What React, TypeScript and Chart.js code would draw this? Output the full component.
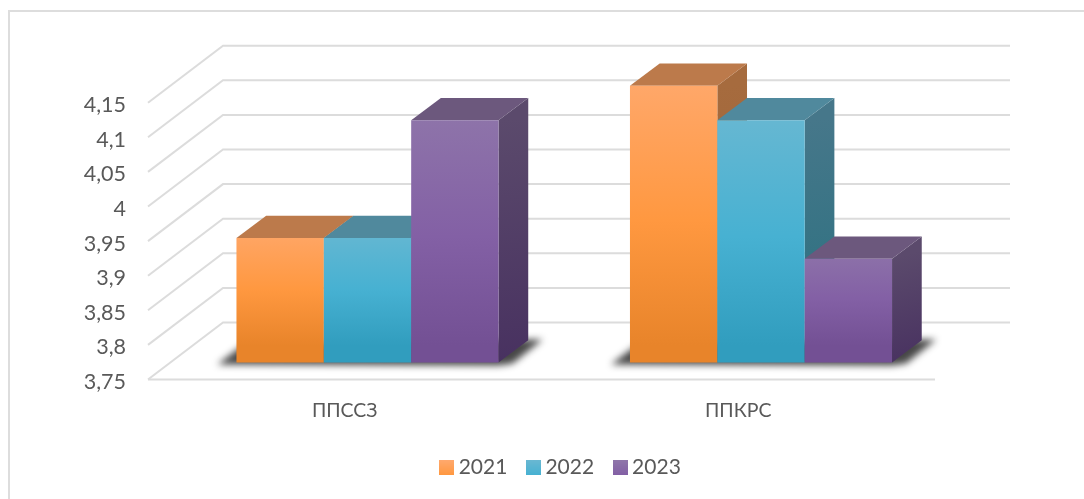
import React, { useEffect, useRef } from "react";
import { Chart, registerables } from "chart.js";

Chart.register(...registerables);

const categories = ["ППССЗ", "ППКРС"];
const seriesNames = ["2021", "2022", "2023"];
const values2021 = [3.93, 4.15];
const values2022 = [3.93, 4.1];
const values2023 = [4.1, 3.9];
const yTickLabels = ["3,75", "3,8", "3,85", "3,9", "3,95", "4", "4,05", "4,1", "4,15"];

const FONT = "Lato, 'Open Sans', sans-serif";
const TEXT = "#595959";
const GRID = "#DCDCDC";

const palette = [
  { front: ["#FFA96E", "#FF9840", "#E8842A"], top: "#BC7A4B", side: ["#A66B3E", "#9A6234"] },
  { front: ["#6AB8D2", "#47B1D2", "#319DBE"], top: "#50899D", side: ["#46778A", "#28707F"] },
  { front: ["#8F76AA", "#8360A5", "#735094"], top: "#6C587D", side: ["#5B4A6C", "#483160"] },
];

// 3D projection of the plot
const WALL_DX = 75;
const WALL_DY = 57;
const BAR_DX = 22.75;
const BAR_DY = 17;
const DEPTH_DX = 29.7;
const DEPTH_DY = 22.3;

const swatch = (i: number) => {
  const c = document.createElement("canvas");
  c.width = 15;
  c.height = 15;
  const g = c.getContext("2d")!;
  const grad = g.createLinearGradient(0, 0, 0, 15);
  grad.addColorStop(0, palette[i].front[0]);
  grad.addColorStop(1, palette[i].front[1]);
  g.fillStyle = grad;
  g.fillRect(0, 0, 15, 15);
  return c;
};

const poly = (ctx: CanvasRenderingContext2D, pts: number[][], fill: any) => {
  ctx.beginPath();
  pts.forEach(([x, y], i) => (i ? ctx.lineTo(x, y) : ctx.moveTo(x, y)));
  ctx.closePath();
  ctx.fillStyle = fill;
  ctx.fill();
};

const scene = {
  id: "scene",
  beforeDraw(chart: any) {
    const ctx = chart.ctx;
    ctx.save();
    ctx.fillStyle = "#fff";
    ctx.fillRect(0, 0, chart.width, chart.height);
    ctx.fillStyle = "#DDDDDD";
    ctx.fillRect(8, 10, chart.width - 8, 2);
    ctx.fillRect(8, 10, 2, chart.height - 10);
    ctx.restore();
  },
  beforeDatasetsDraw(chart: any) {
    const { ctx, chartArea, scales } = chart;
    const y = scales.y;
    ctx.save();
    ctx.strokeStyle = GRID;
    ctx.lineWidth = 2;
    y.ticks.forEach((_: any, i: number) => {
      const py = y.getPixelForTick(i);
      ctx.beginPath();
      ctx.moveTo(chartArea.left, py);
      ctx.lineTo(chartArea.left + WALL_DX, py - WALL_DY);
      ctx.lineTo(chartArea.right + WALL_DX, py - WALL_DY);
      ctx.stroke();
    });
    ctx.beginPath();
    ctx.moveTo(chartArea.left, chartArea.bottom);
    ctx.lineTo(chartArea.right, chartArea.bottom);
    ctx.stroke();

    ctx.translate(BAR_DX, -BAR_DY);
    const metas = chart.data.datasets.map((_: any, i: number) => chart.getDatasetMeta(i));

    // soft floor shadow under each group
    categories.forEach((_, c) => {
      const L = metas[0].data[c].x - metas[0].data[c].width / 2;
      const last = metas[metas.length - 1].data[c];
      const R = last.x + last.width / 2;
      const B = last.base;
      ctx.save();
      ctx.filter = "blur(3.5px)";
      poly(
        ctx,
        [
          [L - 19, B + 2],
          [L + 6, B - 17],
          [R + 29, B - 23],
          [R + 44, B - 23],
          [R + 14, B + 1],
          [R, B + 3],
        ],
        "rgba(10,10,10,0.75)"
      );
      ctx.restore();
    });

    // painter's order: left bar first, so each bar covers its neighbour's side
    categories.forEach((_, c) => {
      metas.forEach((meta: any, d: number) => {
        const el = meta.data[c];
        const l = el.x - el.width / 2;
        const r = el.x + el.width / 2;
        const t = el.y;
        const b = el.base;
        const side = ctx.createLinearGradient(r, t, r + DEPTH_DX, b);
        side.addColorStop(0, palette[d].side[0]);
        side.addColorStop(1, palette[d].side[1]);
        poly(ctx, [[r, t], [r + DEPTH_DX, t - DEPTH_DY], [r + DEPTH_DX, b - DEPTH_DY], [r, b]], side);
        poly(ctx, [[l, t], [l + DEPTH_DX, t - DEPTH_DY], [r + DEPTH_DX, t - DEPTH_DY], [r, t]], palette[d].top);
        el.draw(ctx);
      });
    });
    ctx.restore();
  },
  beforeDatasetDraw() {
    return false;
  },
};

const makeDataset = (label: string, data: number[], i: number) => ({
  label,
  data,
  base: 3.75,
  borderWidth: 0,
  backgroundColor: (c: any) => {
    const el = c.chart;
    if (c.type !== "data" || !el.scales.y) return palette[i].front[1];
    const top = el.scales.y.getPixelForValue(data[c.dataIndex]);
    const bot = el.scales.y.getPixelForValue(3.75);
    const g = el.ctx.createLinearGradient(0, top - BAR_DY, 0, bot - BAR_DY);
    g.addColorStop(0, palette[i].front[0]);
    g.addColorStop(0.55, palette[i].front[1]);
    g.addColorStop(1, palette[i].front[2]);
    return g;
  },
});

export default function App() {
  const ref = useRef<HTMLCanvasElement>(null);
  useEffect(() => {
    const swatches = [0, 1, 2].map(swatch);
    const chart = new Chart(ref.current!, {
      type: "bar",
      data: {
        labels: categories,
        datasets: [
          makeDataset(seriesNames[0], values2021, 0),
          makeDataset(seriesNames[1], values2022, 1),
          makeDataset(seriesNames[2], values2023, 2),
        ],
      },
      plugins: [scene],
      options: {
        responsive: false,
        animation: false,
        categoryPercentage: 0.666,
        barPercentage: 1,
        layout: { padding: { left: 42, right: 0, top: 102.7, bottom: 11 } },
        plugins: {
          tooltip: { enabled: false },
          legend: {
            position: "bottom",
            labels: {
              usePointStyle: true,
              pointStyleWidth: 3,
              padding: 24.5,
              color: TEXT,
              font: { family: FONT, size: 21 },
              generateLabels: () =>
                seriesNames.map((text, i) => ({
                  text,
                  datasetIndex: i,
                  hidden: false,
                  lineWidth: 0,
                  fontColor: TEXT,
                  pointStyle: swatches[i],
                })),
            },
          },
        },
        scales: {
          x: {
            grid: { display: false, drawTicks: false },
            border: { display: false },
            ticks: { color: TEXT, padding: 20, font: { family: FONT, size: 19.5 } },
            afterFit: (s: any) => {
              s.height = 53;
            },
          },
          y: {
            min: 3.75,
            max: 4.15,
            grid: { display: false, drawTicks: false },
            border: { display: false },
            ticks: {
              stepSize: 0.05,
              color: TEXT,
              padding: 22,
              labelOffset: 2.5,
              font: { family: FONT, size: 21.5 },
              callback: (_: any, i: number) => yTickLabels[i],
            },
            afterFit: (s: any) => {
              s.width = 106;
            },
          },
          yRight: {
            position: "right",
            grid: { display: false, drawTicks: false },
            border: { display: false },
            ticks: { display: false },
            afterFit: (s: any) => {
              s.width = 149;
            },
          },
        },
      } as any,
    });
    return () => chart.destroy();
  }, []);
  return (
    <div style={{ position: "fixed", left: 0, top: 0, width: 1084, height: 499, overflow: "hidden" }}>
      <canvas ref={ref} width={1084} height={499} style={{ display: "block" }} />
    </div>
  );
}
